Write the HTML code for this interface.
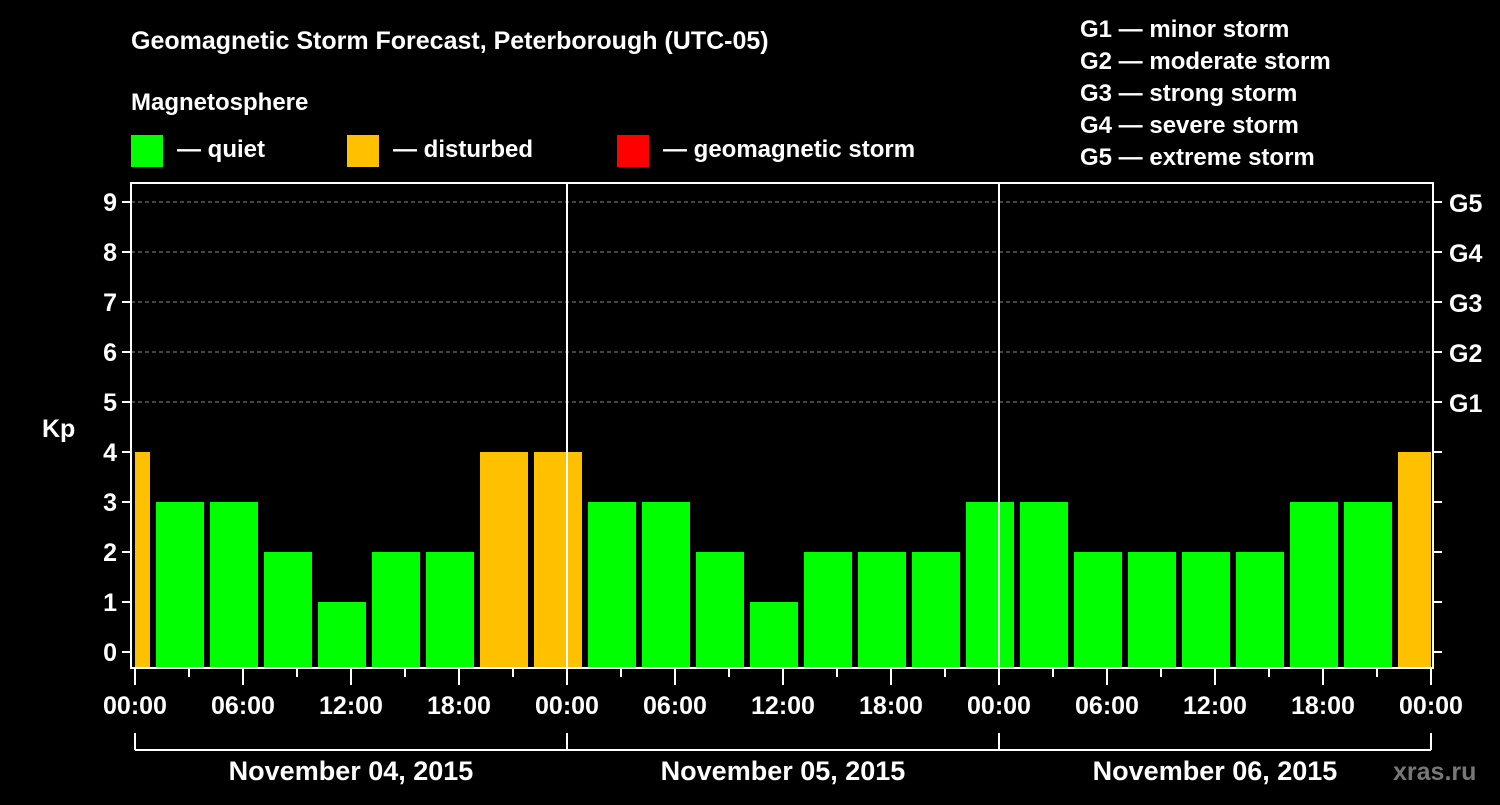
<!DOCTYPE html>
<html><head><meta charset="utf-8"><style>
body{margin:0;background:#000;width:1500px;height:800px;overflow:hidden}
svg text{font-family:"Liberation Sans",sans-serif;font-weight:bold;fill:#fff}
</style></head><body>
<svg width="1500" height="800">
<text x="131" y="49" font-size="25">Geomagnetic Storm Forecast, Peterborough (UTC-05)</text>
<text x="131" y="110" font-size="24">Magnetosphere</text>
<g>
<rect x="131" y="135" width="32" height="32" fill="#00ff00"/>
<text x="177" y="157" font-size="24">— quiet</text>
<rect x="347" y="135" width="32" height="32" fill="#ffc000"/>
<text x="393" y="157" font-size="24">— disturbed</text>
<rect x="617" y="135" width="32" height="32" fill="#ff0000"/>
<text x="663" y="157" font-size="24">— geomagnetic storm</text>
</g>
<g font-size="24">
<text x="1080" y="37">G1 — minor storm</text>
<text x="1080" y="69">G2 — moderate storm</text>
<text x="1080" y="101">G3 — strong storm</text>
<text x="1080" y="133">G4 — severe storm</text>
<text x="1080" y="165">G5 — extreme storm</text>
</g>
<text x="42" y="437" font-size="25">Kp</text>
<g id="plot"></g>
<text x="1393" y="780" font-size="25" fill="#777" style="fill:#777">xras.ru</text>
</svg>
<script>
const kpValues=[4,3,3,2,1,2,2,4,4,3,3,2,1,2,2,2,3,3,2,2,2,2,3,3,4];
const firstBinHour=-2;
const yTicks=[0,1,2,3,4,5,6,7,8,9];
const gLabels=["G1","G2","G3","G4","G5"];
const dayLabels=["November 04, 2015","November 05, 2015","November 06, 2015"];
const hourLabels=["00:00","06:00","12:00","18:00"];
const X0=135,PX_H=18,TOTAL_H=72,L=131,R=1433,T=183,B=668;
const x=h=>X0+h*PX_H;
const y=v=>652-v*50;
const NS="http://www.w3.org/2000/svg";
const g=document.getElementById('plot');
function mk(t,a,txt){const e=document.createElementNS(NS,t);for(const k in a)e.setAttribute(k,a[k]);if(txt!==undefined)e.textContent=txt;g.appendChild(e);return e;}
yTicks.forEach(v=>{
 if(v>=5){const l=mk('line',{x1:L,x2:R,y1:y(v),y2:y(v),stroke:'#888','stroke-dasharray':'4,3','stroke-width':1});
 
 }
 const t=mk('line',{x1:L-9,x2:L,y1:y(v),y2:y(v),stroke:'#fff','stroke-width':2});
 
 
 const tr=mk('line',{x1:R,x2:R+9,y1:y(v),y2:y(v),stroke:'#fff','stroke-width':2});
 
 
 const lb=mk('text',{x:L-14,y:y(v)+9,'font-size':25,'text-anchor':'end'},String(v));
 
 
});
gLabels.forEach((s,i)=>{
 const lb=mk('text',{x:1449,y:y(i+5)+10,'font-size':25},s);
 
 
});
kpValues.forEach((v,i)=>{
 const h0=firstBinHour+i*3,h1=h0+3;
 const a=Math.max(x(h0)+3,x(0)),b=Math.min(x(h1)-3,x(TOTAL_H));
 const col=v>=5?'#ff0000':(v>=4?'#ffc000':'#00ff00');
 const r=mk('rect',{x:a,y:y(v),width:b-a,height:B-y(v),fill:col});
 
 
});
[1,2].forEach(d=>{
 const l=mk('line',{x1:x(d*24),x2:x(d*24),y1:T,y2:B,stroke:'#fff','stroke-width':2});
 
 
});
const fr=mk('rect',{x:L,y:T,width:R-L,height:B-T,fill:'none',stroke:'#fff','stroke-width':2});


for(let h=0;h<=TOTAL_H;h+=3){
 const long=h%6===0;
 const t=mk('line',{x1:x(h),x2:x(h),y1:B,y2:B+(long?17:9),stroke:'#fff','stroke-width':2});
 
 
 if(long){
  const lb=mk('text',{x:x(h),y:714,'font-size':25,'text-anchor':'middle'},hourLabels[(h%24)/6]);
  
  
 }
}
const br=mk('line',{x1:x(0),x2:x(TOTAL_H),y1:750,y2:750,stroke:'#fff','stroke-width':2});


for(let d=0;d<=3;d++){
 const t=mk('line',{x1:x(d*24),x2:x(d*24),y1:733,y2:750,stroke:'#fff','stroke-width':2});
 
 
}
dayLabels.forEach((s,d)=>{
 const lb=mk('text',{x:x(d*24+12),y:780,'font-size':27,'text-anchor':'middle'},s);
 
 
});
</script>
</body></html>
